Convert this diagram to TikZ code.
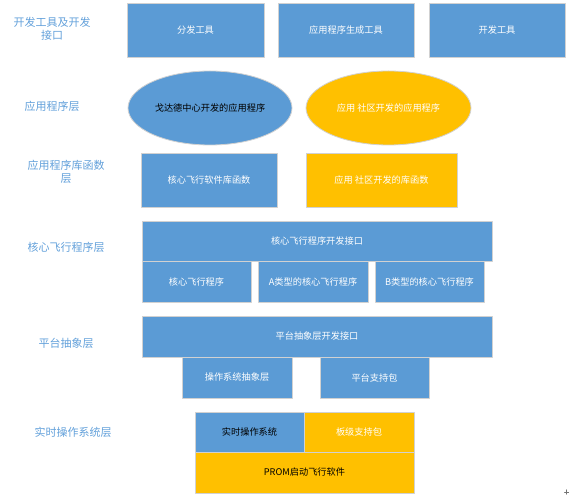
\documentclass[tikz,border=0pt]{standalone}
\usepackage{fontspec}
\newfontfamily\cjk{Noto Sans CJK SC}
\usepackage{tikz}
\usetikzlibrary{shapes.geometric}

\begin{document}
\begin{tikzpicture}[x=1pt, y=-1pt, line join=round, line cap=round,
        blk/.style={draw=black!18, line width=0.8pt, inner sep=0pt, font=\cjk\fontsize{9.2}{11}\selectfont},
        bluebox/.style={blk, fill=boxblue, text=white},
        goldbox/.style={blk, fill=boxgold, text=white},
        layername/.style={text=labelblue, align=center, font=\cjk\fontsize{11}{13}\selectfont}]
        \definecolor{boxblue}{RGB}{91,155,213}
        \definecolor{boxgold}{RGB}{255,192,0}
        \definecolor{labelblue}{RGB}{98,160,218}

        \useasboundingbox (0,0) rectangle (569,502);

        \node[layername] (ltools) at (52,29) {开发工具及开发\\接口};
        \node[layername] (lapp) at (52,106) {应用程序层};
        \node[layername] (llib) at (66,172) {应用程序库函数\\层};
        \node[layername] (lcore) at (66,247) {核心飞行程序层};
        \node[layername] (lpal) at (66,343) {平台抽象层};
        \node[layername] (lrtos) at (73,432) {实时操作系统层};

        \node[bluebox, minimum width=137pt, minimum height=54pt] (tooldist) at (195.5,30) {分发工具};
        \node[bluebox, minimum width=136pt, minimum height=54pt] (toolgen) at (346,30) {应用程序生成工具};
        \node[bluebox, minimum width=136pt, minimum height=54pt] (tooldev) at (497,30) {开发工具};

        \node[bluebox, ellipse, minimum width=164pt, minimum height=74pt, text=black] (appgsfc) at (210,108) {戈达德中心开发的应用程序};
        \node[goldbox, ellipse, minimum width=165pt, minimum height=74pt] (appcomm) at (388.5,108) {应用 社区开发的应用程序};

        \node[bluebox, minimum width=136pt, minimum height=54pt] (libcore) at (209,180) {核心飞行软件库函数};
        \node[goldbox, minimum width=151pt, minimum height=54pt] (libcomm) at (381.5,180) {应用 社区开发的库函数};

        \node[bluebox, minimum width=350pt, minimum height=40pt] (coreapi) at (317,241) {核心飞行程序开发接口};
        \node[bluebox, minimum width=109pt, minimum height=41pt] (corefsw) at (196.5,281.5) {核心飞行程序};
        \node[bluebox, minimum width=110pt, minimum height=41pt] (corea) at (313,281.5) {A类型的核心飞行程序};
        \node[bluebox, minimum width=109pt, minimum height=41pt] (coreb) at (429.5,281.5) {B类型的核心飞行程序};

        \node[bluebox, minimum width=350pt, minimum height=41pt] (palapi) at (317,336.5) {平台抽象层开发接口};
        \node[bluebox, minimum width=110pt, minimum height=41pt] (osal) at (237,377.5) {操作系统抽象层};
        \node[bluebox, minimum width=109pt, minimum height=41pt] (psp) at (374.5,377.5) {平台支持包};

        \node[bluebox, minimum width=109pt, minimum height=40pt, text=black] (rtos) at (249.5,432) {实时操作系统};
        \node[goldbox, minimum width=110pt, minimum height=40pt] (bsp) at (359,432) {板级支持包};
        \node[goldbox, minimum width=219pt, minimum height=41pt, text=black] (prom) at (304.5,472.5) {PROM启动飞行软件};

        \draw[black!55, line width=1pt] (564.5,492) -- (569,492) (566.7,489.8) -- (566.7,494.2);
    \end{tikzpicture}
\end{document}
